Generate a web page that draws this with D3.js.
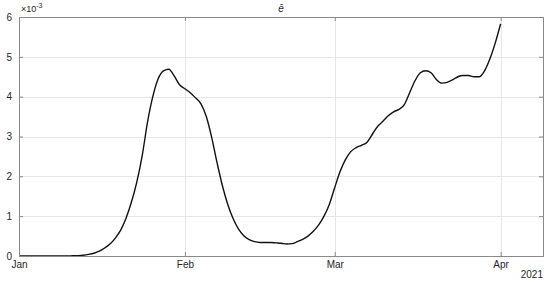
<!DOCTYPE html>
<html>
<head>
<meta charset="utf-8">
<script src="https://cdn.jsdelivr.net/npm/d3@7"></script>
<style>
  body { margin: 0; background: #fff; }
  .chart { width: 550px; height: 285px; }
  text { font-family: "Liberation Sans", Arial, sans-serif; fill: #262626; }
</style>
</head>
<body>
<div class="chart"></div>
<script>
/* data: one value per day, 1 Jan 2021 .. 1 Apr 2021, in units of 1e-3 */
var startDate = "2021-01-01";
var values = [
  0, 0, 0, 0, 0, 0, 0, 0, 0, 0,
  0.005, 0.01, 0.02, 0.04, 0.07, 0.12, 0.2, 0.3, 0.45, 0.65,
  0.95, 1.35, 1.85, 2.5, 3.35, 4.0, 4.45, 4.65, 4.69, 4.52,
  4.3, 4.2, 4.1, 3.97, 3.82, 3.5, 2.98, 2.35, 1.77, 1.3,
  0.94, 0.68, 0.51, 0.41, 0.36, 0.34, 0.34, 0.34, 0.33, 0.32,
  0.3, 0.31, 0.36, 0.42, 0.5, 0.62, 0.78, 1.0, 1.3, 1.72,
  2.12, 2.42, 2.62, 2.72, 2.78, 2.85, 3.05, 3.25, 3.38, 3.52,
  3.62, 3.68, 3.8, 4.1, 4.4, 4.6, 4.65, 4.6, 4.43, 4.34,
  4.36, 4.42, 4.5, 4.53, 4.53, 4.5, 4.5, 4.65, 4.95, 5.35,
  5.83
];
var xTicks = ["2021-01-01", "2021-02-01", "2021-03-01", "2021-04-01"];
var xTickLabels = ["Jan", "Feb", "Mar", "Apr"];
var yTicks = [0, 1, 2, 3, 4, 5, 6];
var titleText = "\u0113";
var yExponent = "-3";
var yearLabel = "2021";

var margin = { top: 17, right: 7, bottom: 29, left: 19 };
var width = 550 - margin.left - margin.right;
var height = 285 - margin.top - margin.bottom;

var parse = d3.utcParse("%Y-%m-%d");
var t0 = parse(startDate);
var data = values.map(function(v, i) {
    return { date: d3.utcDay.offset(t0, i), value: v };
});

var xScale = d3.scaleUtc()
    .domain([t0, d3.utcHour.offset(parse("2021-04-08"), 22)])
    .range([0, width]);
var yScale = d3.scaleLinear().domain([0, 6]).range([height, 0]);

var svg = d3.select(".chart").append("svg")
    .attr("width", 550)
    .attr("height", 285);

var g = svg.append("g")
    .attr("transform", "translate(" + margin.left + "," + margin.top + ")");

// grid
g.append("g").selectAll("line.gx")
    .data(xTicks.map(parse))
    .enter().append("line")
    .attr("x1", function(d) { return Math.round(xScale(d)) + 0.5; })
    .attr("x2", function(d) { return Math.round(xScale(d)) + 0.5; })
    .attr("y1", 0).attr("y2", height)
    .attr("stroke", "#e6e6e6");

g.append("g").selectAll("line.gy")
    .data(yTicks)
    .enter().append("line")
    .attr("y1", function(d) { return Math.round(yScale(d)) + 0.5; })
    .attr("y2", function(d) { return Math.round(yScale(d)) + 0.5; })
    .attr("x1", 0).attr("x2", width)
    .attr("stroke", "#e6e6e6");

// line
g.append("path")
    .datum(data)
    .attr("fill", "none")
    .attr("stroke", "#111")
    .attr("stroke-width", 1.4)
    .attr("d", d3.line()
        .x(function(d) { return xScale(d.date); })
        .y(function(d) { return yScale(d.value); })
        .curve(d3.curveMonotoneX));

// axes (MATLAB style: ticks inward, box on)
var tk = 4;
var axisColor = "#8a8a8a";

var xAxis = g.append("g")
    .attr("transform", "translate(0," + height + ")")
    .call(d3.axisBottom(xScale)
        .tickValues(xTicks.map(parse))
        .tickSize(-tk)
        .tickPadding(5)
        .tickFormat(function(d, i) { return xTickLabels[i]; }));

var xTop = g.append("g")
    .call(d3.axisTop(xScale)
        .tickValues(xTicks.map(parse))
        .tickSize(-tk)
        .tickFormat(""));

var yAxis = g.append("g")
    .call(d3.axisLeft(yScale)
        .tickValues(yTicks)
        .tickSize(-tk)
        .tickPadding(7)
        .tickFormat(d3.format("d")));

var yRight = g.append("g")
    .attr("transform", "translate(" + width + ",0)")
    .call(d3.axisRight(yScale)
        .tickValues(yTicks)
        .tickSize(-tk)
        .tickFormat(""));

[xAxis, xTop, yAxis, yRight].forEach(function(a) {
    a.select(".domain").attr("stroke", axisColor);
    a.selectAll(".tick line").attr("stroke", axisColor);
    a.selectAll(".tick text").attr("font-size", 10).attr("fill", "#262626");
});

// exponent label
var ex = svg.append("text")
    .attr("x", margin.left + 2)
    .attr("y", 12)
    .attr("font-size", 9);
ex.append("tspan").text("\u00d710");
ex.append("tspan").attr("dy", -4).attr("font-size", 7).text(yExponent);

// title
svg.append("text")
    .attr("x", margin.left + width / 2)
    .attr("y", 12)
    .attr("text-anchor", "middle")
    .attr("font-size", 10)
    .attr("font-style", "italic")
    .text(titleText);

// year label
svg.append("text")
    .attr("x", margin.left + width)
    .attr("y", 278)
    .attr("text-anchor", "end")
    .attr("font-size", 10)
    .text(yearLabel);
</script>
</body>
</html>
